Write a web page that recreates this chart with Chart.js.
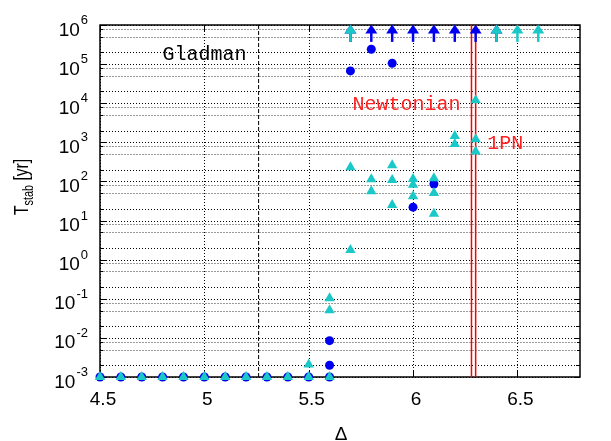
<!DOCTYPE html>
<html>
<head>
<meta charset="utf-8">
<script src="https://cdn.jsdelivr.net/npm/chart.js@4/dist/chart.umd.min.js"></script>
<style>
  html, body { margin: 0; padding: 0; background: #fff; }
</style>
</head>
<body>
<canvas id="chart" width="611" height="441"></canvas>
<script>
// blue circles
const circleX = [4.5, 4.6, 4.7, 4.8, 4.9, 5.0, 5.1, 5.2, 5.3, 5.4, 5.5, 5.6,
                 5.6, 5.6, 5.7, 5.8, 5.9, 6.0, 6.1];
const circleY = [1e-3, 1e-3, 1e-3, 1e-3, 1e-3, 1e-3, 1e-3, 1e-3, 1e-3, 1e-3, 1e-3, 1e-3,
                 2.0e-3, 8.5e-3, 6.7e4, 2.4e5, 1.05e5, 22, 86];

// cyan triangles
const triangleX = [4.5, 4.6, 4.7, 4.8, 4.9, 5.0, 5.1, 5.2, 5.3, 5.4, 5.5, 5.6,
                   5.5, 5.6, 5.6, 5.7, 5.7, 5.8, 5.8, 5.9, 5.9, 5.9,
                   6.0, 6.0, 6.0, 6.1, 6.1, 6.1, 6.2, 6.2, 6.3, 6.3, 6.3];
const triangleY = [1e-3, 1e-3, 1e-3, 1e-3, 1e-3, 1e-3, 1e-3, 1e-3, 1e-3, 1e-3, 1e-3, 1e-3,
                   2.1e-3, 0.1035, 0.051, 230, 1.76, 113, 56, 259, 109, 25,
                   115, 82, 42, 120, 51, 15, 1450, 910, 1200, 580, 1.2e4];

// lower limits (still stable at the end of the run)
const blueArrowX = [5.7, 5.8, 5.9, 6.0, 6.1, 6.2, 6.3, 6.4];
const cyanArrowX = [5.7, 6.4, 6.5, 6.6];
const arrowFrom = 3.7e5;
const arrowTo = 1e6;

// vertical reference lines
const gladmanX = 5.26;
const newtonianX = 6.30;
const pnX = 6.28;

// axes
const xMin = 4.5, xMax = 6.8;
const xTicks = [4.5, 5, 5.5, 6, 6.5];
const yMin = 1e-3, yMax = 1e6;
const yExponents = [-3, -2, -1, 0, 1, 2, 3, 4, 5, 6];

// text labels: [text, x, y, colour]
const notes = [
  ['Gladman', 4.80, 1.27e5, '#000'],
  ['Newtonian', 5.71, 6.7e3, '#ff2020'],
  ['1PN', 6.356, 675, '#ff2020']
];

const BLUE = '#0000f0';
const CYAN = '#1ac8c8';

const pts = (xs, ys) => xs.map((x, i) => ({ x: x, y: ys[i] }));
const vline = x => [{ x: x, y: yMin }, { x: x, y: yMax }];

// grid, frame, ticks, arrows and texts
const decor = {
  id: 'decor',
  beforeDatasetsDraw(chart) {
    const { ctx, chartArea: a, scales: { x, y } } = chart;
    ctx.save();
    ctx.lineWidth = 1;
    // horizontal grid
    for (let n = -3; n <= 6; n++) {
      const mult = n < 6 ? [1, 2, 5, 8] : [1];
      mult.forEach(m => {
        const v = m * Math.pow(10, n);
        if (v > yMax) return;
        const py = Math.round(y.getPixelForValue(v)) + 0.5;
        const dark = m === 1 || m === 2;
        ctx.strokeStyle = dark ? '#000' : '#9a9a9a';
        ctx.setLineDash(dark ? [1, 2] : [2, 1]);
        ctx.beginPath();
        ctx.moveTo(a.left, py);
        ctx.lineTo(a.right, py);
        ctx.stroke();
        // inward tick marks on both sides
        const len = m === 1 ? 6 : (m === 2 ? 4 : 3);
        ctx.setLineDash([]);
        ctx.strokeStyle = '#000';
        ctx.beginPath();
        ctx.moveTo(a.left, py); ctx.lineTo(a.left + len, py);
        ctx.moveTo(a.right, py); ctx.lineTo(a.right - len, py);
        ctx.stroke();
      });
    }
    // vertical grid
    xTicks.forEach(v => {
      const px = Math.round(x.getPixelForValue(v)) + 0.5;
      ctx.strokeStyle = '#000';
      ctx.setLineDash([1, 2]);
      ctx.beginPath();
      ctx.moveTo(px, a.top);
      ctx.lineTo(px, a.bottom);
      ctx.stroke();
      ctx.setLineDash([]);
      ctx.beginPath();
      ctx.moveTo(px, a.bottom); ctx.lineTo(px, a.bottom - 6);
      ctx.moveTo(px, a.top); ctx.lineTo(px, a.top + 6);
      ctx.stroke();
    });
    // frame
    ctx.setLineDash([]);
    ctx.strokeStyle = '#000';
    ctx.lineWidth = 1.5;
    ctx.strokeRect(a.left, a.top, a.right - a.left, a.bottom - a.top);
    ctx.restore();
  },
  afterDatasetsDraw(chart) {
    const { ctx, scales: { x, y } } = chart;
    const arrow = (xv, colour) => {
      const px = x.getPixelForValue(xv);
      const top = y.getPixelForValue(arrowTo) - 0.5;
      const bottom = y.getPixelForValue(arrowFrom);
      ctx.strokeStyle = colour;
      ctx.fillStyle = colour;
      ctx.lineWidth = 2.5;
      ctx.beginPath();
      ctx.moveTo(px, bottom);
      ctx.lineTo(px, top + 8);
      ctx.stroke();
      ctx.beginPath();
      ctx.moveTo(px, top);
      ctx.lineTo(px + 6, top + 9);
      ctx.lineTo(px - 6, top + 9);
      ctx.closePath();
      ctx.fill();
    };
    ctx.save();
    blueArrowX.forEach(v => arrow(v, BLUE));
    cyanArrowX.forEach(v => arrow(v, CYAN));
    ctx.restore();
  },
  afterDraw(chart) {
    const { ctx, chartArea: a, scales: { x, y } } = chart;
    ctx.save();
    ctx.fillStyle = '#000';
    // y tick labels 10^n
    yExponents.forEach(n => {
      const py = y.getPixelForValue(Math.pow(10, n));
      ctx.font = '13px "Liberation Sans", Arial, sans-serif';
      const exp = String(n).replace('-', '-');
      const ew = ctx.measureText(exp).width;
      ctx.textAlign = 'left';
      ctx.textBaseline = 'alphabetic';
      ctx.fillText(exp, 88 - ew, py - 1);
      ctx.font = '19px "Liberation Sans", Arial, sans-serif';
      ctx.textAlign = 'right';
      ctx.fillText('10', 88 - ew - 1, py + 10.5);
    });
    // x tick labels
    ctx.font = '19px "Liberation Sans", Arial, sans-serif';
    ctx.textAlign = 'center';
    xTicks.forEach(v => {
      ctx.fillText(String(v), x.getPixelForValue(v) + 3, a.bottom + 28);
    });
    // x title
    ctx.font = '19px "Liberation Sans", Arial, sans-serif';
    ctx.fillText('Δ', (a.left + a.right) / 2 + 1, 440);
    // y title: T_stab [yr]
    ctx.save();
    ctx.translate(28, 187);
    ctx.rotate(-Math.PI / 2);
    ctx.scale(0.78, 1);
    ctx.textAlign = 'left';
    const big = '20px "Liberation Sans", Arial, sans-serif';
    const small = '14px "Liberation Sans", Arial, sans-serif';
    ctx.font = big;
    const wT = ctx.measureText('T').width;
    ctx.font = small;
    const wS = ctx.measureText('stab').width;
    ctx.font = big;
    const wR = ctx.measureText(' [yr]').width;
    let cx = -(wT + wS + wR) / 2;
    ctx.fillText('T', cx, 0);
    cx += wT;
    ctx.font = small;
    ctx.fillText('stab', cx, 5);
    cx += wS;
    ctx.font = big;
    ctx.fillText(' [yr]', cx, 0);
    ctx.restore();
    // annotations
    ctx.font = '20px "Liberation Mono", "Courier New", monospace';
    ctx.textAlign = 'left';
    notes.forEach(([t, xv, yv, c]) => {
      ctx.fillStyle = c;
      ctx.fillText(t, x.getPixelForValue(xv), y.getPixelForValue(yv));
    });
    ctx.restore();
  }
};

new Chart(document.getElementById('chart'), {
  type: 'scatter',
  data: {
    datasets: [
      {
        label: 'triangles',
        data: pts(triangleX, triangleY),
        pointStyle: 'triangle',
        pointRadius: 6,
        backgroundColor: CYAN,
        borderColor: CYAN,
        borderWidth: 0,
        clip: false
      },
      {
        label: 'circles',
        data: pts(circleX, circleY),
        pointStyle: 'circle',
        pointRadius: 4.5,
        backgroundColor: BLUE,
        borderColor: BLUE,
        borderWidth: 0,
        clip: false
      },
      {
        type: 'line',
        label: 'Gladman',
        data: vline(gladmanX),
        borderColor: '#000',
        borderWidth: 1,
        borderDash: [4, 2],
        pointRadius: 0
      },
      {
        type: 'line',
        label: 'Newtonian',
        data: vline(newtonianX),
        borderColor: '#ff0000',
        borderWidth: 1.5,
        pointRadius: 0
      },
      {
        type: 'line',
        label: '1PN',
        data: vline(pnX),
        borderColor: '#ff0000',
        borderWidth: 1.5,
        pointRadius: 0
      }
    ]
  },
  options: {
    responsive: false,
    animation: false,
    devicePixelRatio: 1,
    layout: { padding: { left: 0, top: 25, right: 31, bottom: 0 } },
    plugins: { legend: { display: false }, tooltip: { enabled: false } },
    scales: {
      x: {
        type: 'linear',
        min: xMin,
        max: xMax,
        grid: { display: false },
        border: { display: false },
        ticks: { display: false },
        afterBuildTicks: s => { s.ticks = xTicks.map(v => ({ value: v })); },
        afterFit: s => { s.height = 64; }
      },
      y: {
        type: 'logarithmic',
        min: yMin,
        max: yMax,
        grid: { display: false },
        border: { display: false },
        ticks: { display: false },
        afterFit: s => { s.width = 100; }
      }
    }
  },
  plugins: [decor]
});
</script>
</body>
</html>
